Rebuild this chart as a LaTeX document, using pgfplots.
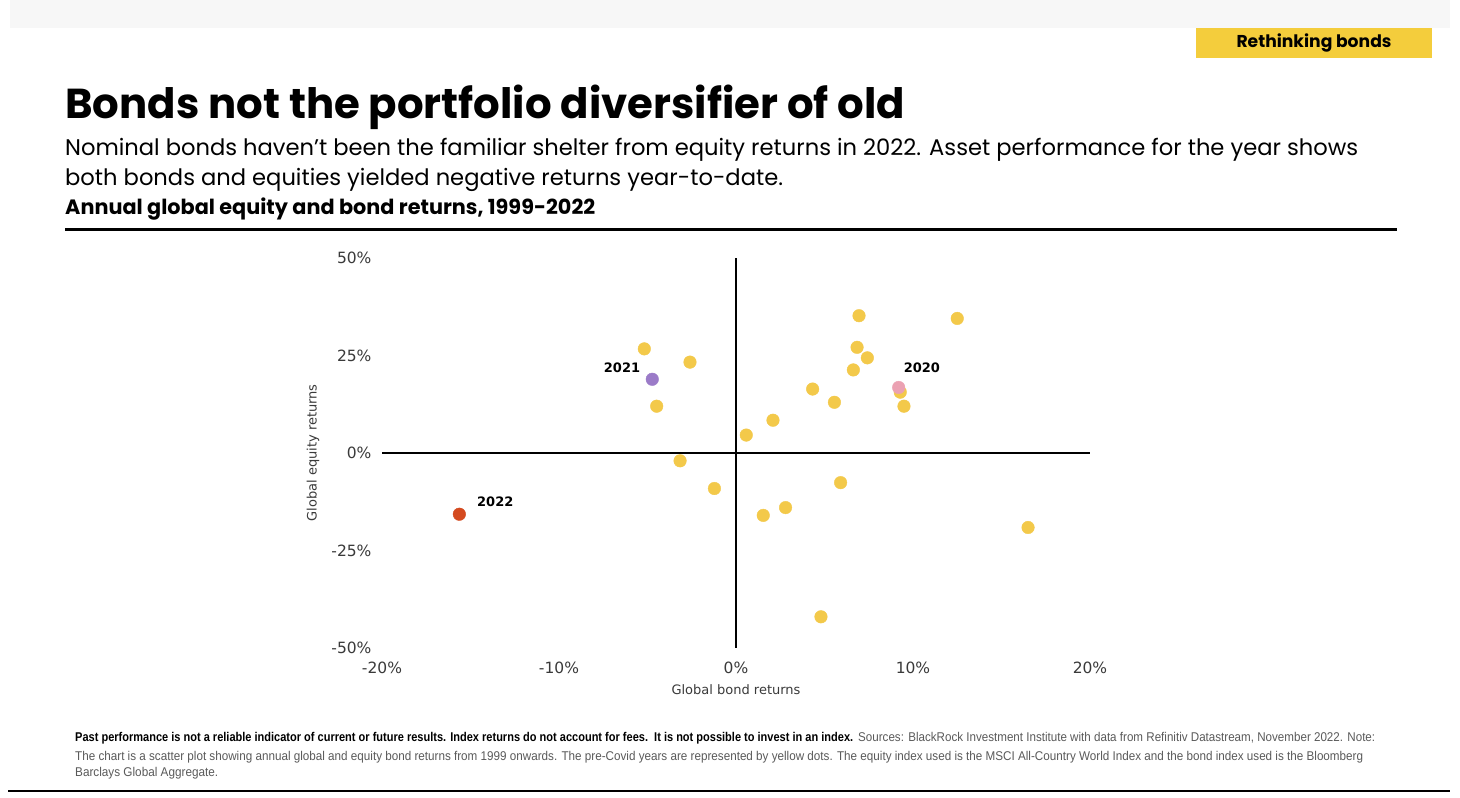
\documentclass[border=0pt]{standalone}
\usepackage{fontspec}
\usepackage{graphicx}
\usepackage{pgfplots}
\pgfplotsset{compat=1.18}
\newfontfamily\pop{Poppins}
\newfontfamily\dv{DejaVu Sans}
\newfontfamily\lib{Liberation Sans}
\definecolor{dotyellow}{HTML}{F3C94A}
\definecolor{boxyellow}{HTML}{F4CD3C}
\definecolor{dotred}{HTML}{D44A1F}
\definecolor{dotpurple}{HTML}{9B7BC8}
\definecolor{dotpink}{HTML}{EBA1B2}
\definecolor{tickgray}{HTML}{3A3A3A}
\definecolor{notegray}{HTML}{5A5A5A}
\newlength\subw
\begin{document}
\settowidth{\subw}{\pop\fontsize{21}{25}\selectfont Nominal bonds haven’t been the familiar shelter from equity returns in 2022. Asset performance for the year shows}%
\pgfmathsetmacro{\subscale}{1293/\subw}%
\begin{tikzpicture}[x=1pt,y=1pt]
\fill[white] (0,0) rectangle (1460,798);
\fill[black!3] (10,770) rectangle (1450,798);
\fill[boxyellow] (1196,740) rectangle (1432,770);
\node[inner sep=0] at (1314,755) {\resizebox{155pt}{!}{\pop\bfseries\fontsize{15}{18}\selectfont Rethinking bonds}};
% title
\node[anchor=base west, inner sep=0] at (65,679) {\resizebox{840pt}{!}{\pop\bfseries\fontsize{35}{40}\selectfont Bonds not the portfolio diversifier of old}};
% subtitle
\node[anchor=base west, inner sep=0] at (65,642) {\scalebox{\subscale}{\pop\fontsize{21}{25}\selectfont Nominal bonds haven’t been the familiar shelter from equity returns in 2022. Asset performance for the year shows}};
\node[anchor=base west, inner sep=0] at (65,612) {\scalebox{\subscale}{\pop\fontsize{21}{25}\selectfont both bonds and equities yielded negative returns year-to-date.}};
% chart subtitle
\node[anchor=base west, inner sep=0] at (65,583) {\resizebox{530pt}{!}{\pop\bfseries\fontsize{17.5}{20}\selectfont Annual global equity and bond returns, 1999-2022}};
\fill[black] (65,566.7) rectangle (1397,570.3);
% footnote
\node[anchor=base west, inner sep=0] at (75,56) {\resizebox{778pt}{9.2pt}{\lib\bfseries\fontsize{12.5}{14}\selectfont Past performance is not a reliable indicator of current or future results. Index returns do not account for fees.\ \ It is not possible to invest in an index.}};
\node[anchor=base west, inner sep=0, text=notegray] at (858,56) {\resizebox{517pt}{9.2pt}{\lib\fontsize{12.5}{14}\selectfont Sources: BlackRock Investment Institute with data from Refinitiv Datastream, November 2022. Note:}};
\node[anchor=base west, inner sep=0, text=notegray] at (75,37) {\resizebox{1288pt}{9.2pt}{\lib\fontsize{12.5}{14}\selectfont The chart is a scatter plot showing annual global and equity bond returns from 1999 onwards. The pre-Covid years are represented by yellow dots. The equity index used is the MSCI All-Country World Index and the bond index used is the Bloomberg}};
\node[anchor=base west, inner sep=0, text=notegray] at (75,21) {\resizebox{143pt}{9.2pt}{\lib\fontsize{12.5}{14}\selectfont Barclays Global Aggregate.}};
\fill[black] (8,6) rectangle (1450,8);
\begin{axis}[
  at={(382pt,150pt)}, anchor=south west,
  scale only axis, width=708pt, height=390pt,
  xmin=-20, xmax=20, ymin=-50, ymax=50,
  axis line style={draw=none},
  major tick length=0pt,
  xtick={-20,-10,0,10,20},
  xticklabels={-20\%,-10\%,0\%,10\%,20\%},
  ytick={-50,-25,0,25,50},
  yticklabels={-50\%,-25\%,0\%,25\%,50\%},
  ticklabel style={font=\dv\fontsize{15.5}{17}\selectfont, text=tickgray},
  xticklabel style={yshift=-10pt},
  yticklabel style={xshift=-7pt},
  xlabel={Global bond returns},
  ylabel={Global equity returns},
  label style={font=\dv\fontsize{13}{15}\selectfont, text=tickgray},
  xlabel style={at={(axis description cs:0.5,-0.1077)}, anchor=center},
  ylabel style={at={(axis description cs:-0.0975,0.5)}, anchor=center},
  clip=false,
]
\draw[black, line width=1.6pt] (axis cs:-20,0) -- (axis cs:20,0);
\draw[black, line width=1.2pt] (axis cs:0,-50) -- (axis cs:0,50);
\addplot[only marks, mark=*, mark size=6.3pt, color=dotyellow] coordinates {
(-5.18,26.7) (-2.6,23.3) (-4.48,12.0) (-3.16,-2.0) (-1.22,-9.1)
(1.54,-16.0) (2.8,-14.0) (0.58,4.6) (2.09,8.4)
(6.95,35.2) (12.5,34.5) (6.84,27.1) (7.42,24.4) (6.63,21.3)
(4.33,16.4) (5.56,13.0) (9.28,15.6) (9.49,12.0) (5.91,-7.6)
(16.5,-19.1) (4.8,-42.0)
};
\addplot[only marks, mark=*, mark size=6.3pt, color=dotpink] coordinates {(9.19,16.8)};
\addplot[only marks, mark=*, mark size=6.3pt, color=dotpurple] coordinates {(-4.73,18.9)};
\addplot[only marks, mark=*, mark size=6.3pt, color=dotred] coordinates {(-15.63,-15.7)};
\node[font=\dv\bfseries\fontsize{13}{15}\selectfont] at (axis cs:-6.44,21.8) {2021};
\node[font=\dv\bfseries\fontsize{13}{15}\selectfont] at (axis cs:10.5,21.8) {2020};
\node[font=\dv\bfseries\fontsize{13}{15}\selectfont] at (axis cs:-13.6,-12.6) {2022};
\end{axis}
\end{tikzpicture}
\end{document}
